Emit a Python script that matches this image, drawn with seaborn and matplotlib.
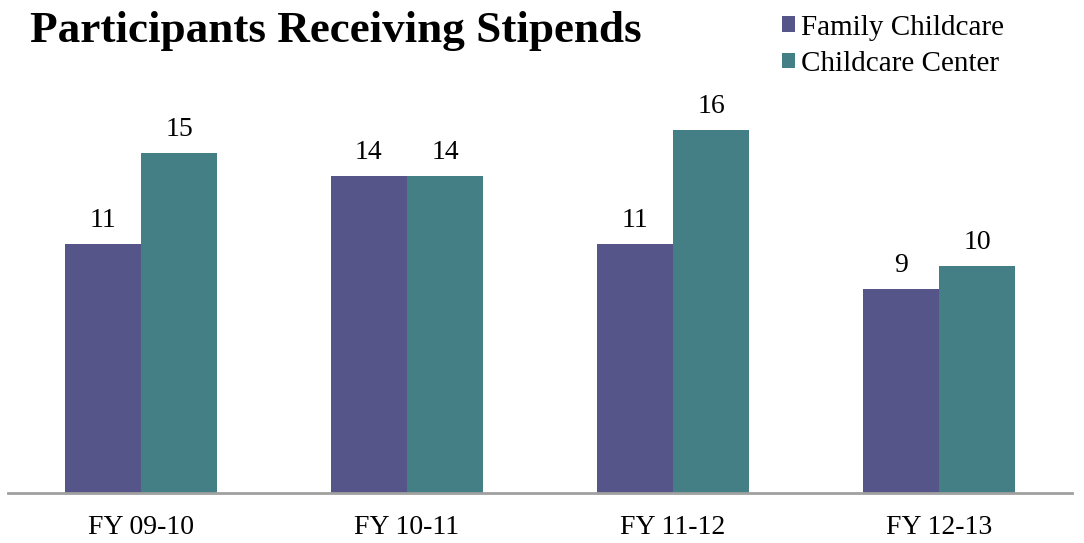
import pandas as pd
import matplotlib.pyplot as plt
import seaborn as sns

# chart values
years = ["FY 09-10", "FY 10-11", "FY 11-12", "FY 12-13"]
family_childcare = [11, 14, 11, 9]
childcare_center = [15, 14, 16, 10]

df = pd.DataFrame({
    "Year": years * 2,
    "Count": family_childcare + childcare_center,
    "Type": ["Family Childcare"] * 4 + ["Childcare Center"] * 4,
})

sns.set_style("white")
plt.rcParams["font.family"] = ["Liberation Serif", "DejaVu Serif"]
plt.rcParams["text.color"] = "black"
plt.rcParams["xtick.color"] = "black"

fig = plt.figure(figsize=(10.84, 5.43), dpi=100)
ax = fig.add_axes([8 / 1084, 50 / 543, 1064 / 1084, 408 / 543])

sns.barplot(data=df, x="Year", y="Count", hue="Type",
            palette=["#55558A", "#437F85"], width=0.573, gap=0,
            saturation=1, linewidth=0, ax=ax)

for c in ax.containers:
    ax.bar_label(c, padding=8, fontsize=20, color="black")

ax.set_xlim(-0.5, 3.5)
ax.set_ylim(0, 18)
ax.set_yticks([])
ax.set_xlabel("")
ax.set_ylabel("")
ax.tick_params(axis="x", labelsize=20, labelcolor="black", length=0, pad=16)
for side in ["top", "right", "left"]:
    ax.spines[side].set_visible(False)
ax.spines["bottom"].set_color("#A0A0A0")
ax.spines["bottom"].set_linewidth(2)

fig.text(30 / 1084, 1 - 42 / 543, "Participants Receiving Stipends",
         fontsize=32.5, fontweight="bold", color="black")

sns.move_legend(ax, "upper left", bbox_to_anchor=(770 / 1084, 1 - 3 / 543),
                bbox_transform=fig.transFigure, title=None, frameon=False,
                fontsize=21, handlelength=0.45, handleheight=0.45,
                handletextpad=0.2, labelspacing=0.35, borderaxespad=0)

fig.savefig("out.png", dpi=100)
